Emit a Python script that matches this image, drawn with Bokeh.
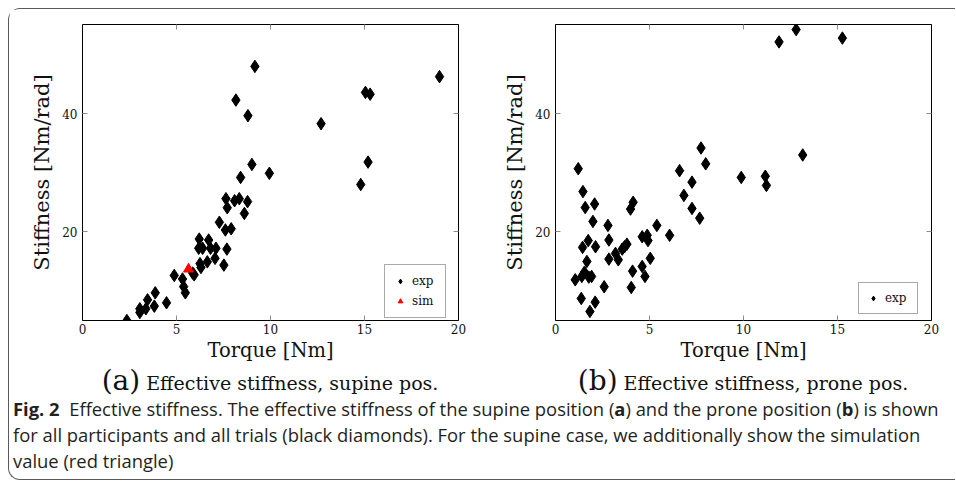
from bokeh.plotting import figure
from bokeh.models import LinearAxis, Range1d, Div, Legend, LegendItem, FixedTicker, CustomLabelingPolicy
from bokeh.layouts import column, row
from bokeh.embed import file_html
from bokeh.resources import INLINE

# ---------------- data ----------------
supine_torque = [9.17, 18.99, 15.05, 15.3, 8.16, 8.8, 12.69, 9.01, 15.19, 9.94, 14.8, 8.41,
                 7.63, 8.09, 8.34, 8.78, 7.7, 8.61, 7.28, 7.6, 7.91, 6.21, 6.71, 6.18, 6.39,
                 6.81, 7.1, 7.68, 7.05, 6.64, 6.25, 6.3, 7.52, 5.86, 5.94, 4.88, 5.32, 5.38,
                 5.47, 3.87, 4.47, 3.46, 3.82, 3.37, 3.05, 3.05, 2.36]
supine_stiffness = [48.0, 46.27, 43.6, 43.3, 42.3, 39.66, 38.3, 31.4, 31.8, 29.9, 28.0, 29.2,
                    25.6, 25.25, 25.6, 25.1, 24.07, 23.1, 21.6, 20.3, 20.5, 18.76, 18.6, 17.2, 17.2,
                    17.2, 17.2, 17.06, 15.5, 14.9, 14.6, 13.95, 14.35, 13.0, 12.7, 12.6, 12.0, 10.7,
                    9.66, 9.66, 7.97, 8.47, 7.4, 6.95, 6.95, 6.33, 4.97]
sim_torque = [5.64]
sim_stiffness = [13.67]

prone_torque = [12.8, 11.89, 15.26, 7.74, 13.15, 7.99, 6.6, 1.21, 9.88, 11.16, 11.22, 7.26,
                6.83, 1.46, 1.58, 2.08, 4.13, 3.99, 7.26, 7.67, 1.99, 2.79, 5.39, 6.07, 4.61,
                4.88, 4.92, 2.84, 1.74, 1.44, 2.13, 3.8, 3.67, 3.55, 3.19, 3.34, 2.84, 5.04,
                1.67, 1.54, 1.4, 1.77, 1.92, 1.05, 4.1, 4.61, 4.76, 2.59, 4.03, 1.37, 2.11, 1.83]
prone_stiffness = [54.24, 52.15, 52.8, 34.18, 33.0, 31.5, 30.34, 30.68, 29.2, 29.4, 27.85, 28.4,
                   26.16, 26.8, 24.1, 24.7, 25.0, 23.84, 23.95, 22.3, 21.75, 21.07, 21.07, 19.4, 19.15,
                   19.4, 18.5, 18.6, 18.5, 17.35, 17.46, 17.9, 17.46, 17.06, 16.33, 15.25, 15.37, 15.5,
                   14.97, 13.16, 12.43, 12.32, 12.43, 11.86, 13.33, 14.12, 12.43, 10.68, 10.56, 8.7, 8.08, 6.5]

x_ticks = [0, 5, 10, 15, 20]
y_ticks = [20, 40]
x_label = "Torque [Nm]"
y_label = "Stiffness [Nm/rad]"

SERIF = "DejaVu Serif"
TICK_COLOR = "#8c8c8c"


def make_fig(width, left, right):
    p = figure(width=width, height=359, x_range=Range1d(0, 20), y_range=Range1d(4.97, 55.1),
               output_backend="svg", toolbar_location=None,
               min_border_left=left, min_border_right=right,
               min_border_top=15, min_border_bottom=48)
    p.grid.visible = False
    p.outline_line_color = "black"
    p.outline_line_width = 1
    p.background_fill_color = "white"
    p.border_fill_color = "white"
    bottom = p.below[0]
    left_ax = p.left[0]
    bottom.ticker = FixedTicker(ticks=x_ticks)
    left_ax.ticker = FixedTicker(ticks=y_ticks)
    bottom.axis_label = x_label
    left_ax.axis_label = y_label
    top = LinearAxis(ticker=FixedTicker(ticks=x_ticks))
    rgt = LinearAxis(ticker=FixedTicker(ticks=y_ticks))
    p.add_layout(top, "above")
    p.add_layout(rgt, "right")
    for ax in [top, rgt]:
        ax.major_label_policy = CustomLabelingPolicy(code="return []")
        ax.major_label_standoff = 0
    for ax in [bottom, left_ax, top, rgt]:
        ax.axis_line_color = "black"
        ax.major_tick_in = 5
        ax.major_tick_out = 0
        ax.major_tick_line_color = TICK_COLOR
        ax.minor_tick_line_color = None
        ax.major_label_text_font = SERIF
        ax.major_label_text_font_size = "12px"
        ax.major_label_text_color = "#111111"
        ax.axis_label_text_font = SERIF
        ax.axis_label_text_font_style = "normal"
        ax.axis_label_text_color = "#111111"
    bottom.axis_label_text_font_size = "19.5px"
    left_ax.axis_label_text_font_size = "21px"
    bottom.major_label_standoff = 3
    bottom.axis_label_standoff = 2
    left_ax.major_label_standoff = 5
    left_ax.axis_label_standoff = 5
    return p


def style_legend(leg, padding, spacing, loc):
    leg.location = loc
    leg.border_line_color = "#555555"
    leg.border_line_width = 1
    leg.label_text_font = SERIF
    leg.label_text_font_size = "12px"
    leg.label_text_color = "#111111"
    leg.glyph_width = 12
    leg.glyph_height = 12
    leg.label_height = 12
    leg.label_width = 24
    leg.label_standoff = 6
    leg.padding = padding
    leg.spacing = spacing
    leg.margin = 0


fa = make_fig(470, 73, 21)
ra = fa.scatter(supine_torque, supine_stiffness, marker="diamond", size=12.5,
                fill_color="black", line_color="black")
rs = fa.scatter(sim_torque, sim_stiffness, marker="triangle", size=10,
                fill_color="red", line_color="red")
leg_a = Legend(items=[LegendItem(label="exp", renderers=[ra]), LegendItem(label="sim", renderers=[rs])])
style_legend(leg_a, 9, 6, (302, 2))
fa.add_layout(leg_a, "center")

fb = make_fig(472, 76, 20)
rb = fb.scatter(prone_torque, prone_stiffness, marker="diamond", size=12.5,
                fill_color="black", line_color="black")
leg_b = Legend(items=[LegendItem(label="exp", renderers=[rb])])
style_legend(leg_b, 8, 0, (303, 6))
fb.add_layout(leg_b, "center")

sub_style = ("font-family:'DejaVu Serif',serif;font-size:19px;color:#111;text-align:center;"
             "height:26px;line-height:26px;white-space:nowrap;overflow:visible;")
sub_a = Div(width=470, height=26, margin=0,
            text=f"<div style=\"{sub_style}margin-left:73px;width:376px;\"><span style='font-size:28px;line-height:26px'>(a)</span> Effective stiffness, supine pos.</div>")
sub_b = Div(width=472, height=26, margin=0,
            text=f"<div style=\"{sub_style}margin-left:76px;width:376px;\"><span style='font-size:28px;line-height:26px'>(b)</span> Effective stiffness, prone pos.</div>")

cap_style = ("font-family:'Open Sans',sans-serif;font-size:18.4px;color:#231f20;"
             "line-height:26px;padding-left:4px;padding-top:2px;white-space:nowrap;")
caption = Div(width=946, height=85, margin=0, text=(
    f"<div style=\"{cap_style}\"><b>Fig. 2</b>&nbsp; Effective stiffness. The effective stiffness of the supine position (<b>a</b>) "
    "and the prone position (<b>b</b>) is shown<br>for all participants and all trials (black diamonds). "
    "For the supine case, we additionally show the simulation<br>value (red triangle)</div>"))

layout = column(row(fa, fb), row(sub_a, sub_b), caption,
                styles={"border-left": "1.6px solid #5a5a5a", "border-top": "1.6px solid #5a5a5a",
                        "border-bottom": "1.6px solid #5a5a5a",
                        "border-top-left-radius": "12px", "border-bottom-left-radius": "12px",
                        "margin-left": "8px", "margin-top": "8px", "background": "white"})

open("out.html", "w").write(file_html(layout, INLINE))
